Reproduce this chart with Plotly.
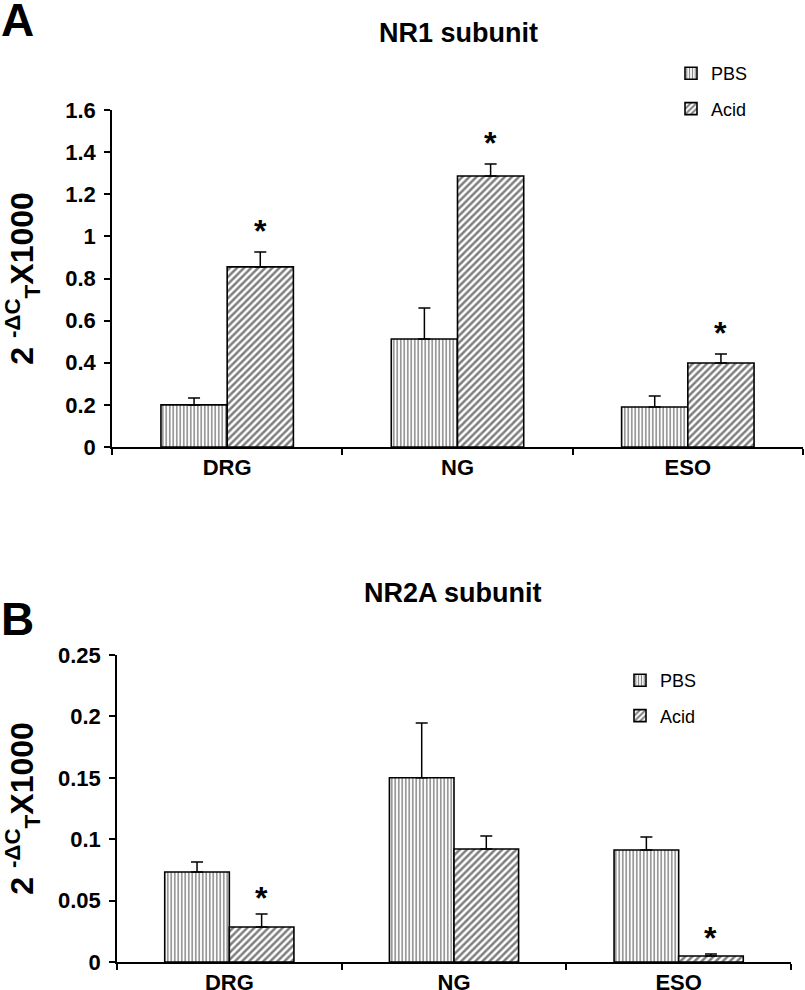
import plotly.graph_objects as go

W, H = 805, 990
categories = ["DRG", "NG", "ESO"]

# Panel A: NR1 subunit
a_pbs = [0.20, 0.513, 0.19]
a_pbs_err = [0.033, 0.147, 0.052]
a_acid = [0.855, 1.287, 0.399]
a_acid_err = [0.071, 0.057, 0.043]
a_sig = [True, True, True]
a_ticks = [0, 0.2, 0.4, 0.6, 0.8, 1, 1.2, 1.4, 1.6]
a_ticklabels = ["0", "0.2", "0.4", "0.6", "0.8", "1", "1.2", "1.4", "1.6"]

# Panel B: NR2A subunit
b_pbs = [0.0733, 0.150, 0.0912]
b_pbs_err = [0.0081, 0.0446, 0.0106]
b_acid = [0.0285, 0.092, 0.0049]
b_acid_err = [0.0105, 0.0106, 0.0016]
b_sig = [True, False, True]
b_ticks = [0, 0.05, 0.1, 0.15, 0.2, 0.25]
b_ticklabels = ["0", "0.05", "0.1", "0.15", "0.2", "0.25"]

FONT = "Liberation Sans, Arial, sans-serif"
BARGAP = 0.425

def py(px):
    return 1 - px / H

def px_(x):
    return x / W

fig = go.Figure()

def add_panel(pbs, pbs_err, acid, acid_err, xa, ya, legend):
    fig.add_trace(go.Bar(
        x=categories, y=pbs, name="PBS", xaxis=xa, yaxis=ya, legend=legend,
        legendgroup=legend + "p",
        marker=dict(color="white", line=dict(color="black", width=1.6),
                    pattern=dict(shape="|", fgcolor="black", bgcolor="white",
                                 size=3.5, solidity=0.4)),
        error_y=dict(type="data", symmetric=False, array=pbs_err,
                     arrayminus=[0] * len(pbs_err), color="black",
                     thickness=1.5, width=6),
    ))
    fig.add_trace(go.Bar(
        x=categories, y=acid, name="Acid", xaxis=xa, yaxis=ya, legend=legend,
        legendgroup=legend + "a",
        marker=dict(color="white", line=dict(color="black", width=1.6),
                    pattern=dict(shape="/", fgcolor="black", bgcolor="white",
                                 size=5, solidity=0.5)),
        error_y=dict(type="data", symmetric=False, array=acid_err,
                     arrayminus=[0] * len(acid_err), color="black",
                     thickness=1.5, width=6),
    ))

add_panel(a_pbs, a_pbs_err, a_acid, a_acid_err, "x", "y", "legend")
add_panel(b_pbs, b_pbs_err, b_acid, b_acid_err, "x2", "y2", "legend2")

axis_common = dict(showline=True, linecolor="black", linewidth=1.5,
                   ticks="outside", tickcolor="black", tickwidth=1.5,
                   showgrid=False, zeroline=False, automargin=False,
                   tickfont=dict(family=FONT, size=22, color="black", weight="bold"))

ytitle = "2 <sup>-ΔC</sup><sub>T</sub>X1000"
ytitle_font = dict(family=FONT, size=32, color="black", weight="bold")

fig.update_layout(
    width=W, height=H,
    margin=dict(l=0, r=0, t=0, b=0, pad=0, autoexpand=False),
    paper_bgcolor="white", plot_bgcolor="white",
    barmode="group", bargap=BARGAP, bargroupgap=0,
    xaxis=dict(domain=[px_(112), px_(803)], anchor="y", range=[-0.5, 2.5],
               tickson="boundaries", ticklen=6, **axis_common),
    yaxis=dict(domain=[py(447), py(110)], anchor="x", range=[0, 1.6],
               tickvals=a_ticks, ticktext=a_ticklabels, ticklen=6,
               ticklabelstandoff=4,
               title=dict(text=ytitle, font=ytitle_font, standoff=22), **axis_common),
    xaxis2=dict(domain=[px_(117), px_(791)], anchor="y2", range=[-0.5, 2.5],
                tickson="boundaries", ticklen=6, **axis_common),
    yaxis2=dict(domain=[py(962), py(655)], anchor="x2", range=[0, 0.25],
                tickvals=b_ticks, ticktext=b_ticklabels, ticklen=6,
                ticklabelstandoff=4,
                title=dict(text=ytitle, font=ytitle_font, standoff=22), **axis_common),
    legend=dict(x=px_(671), y=py(55), xanchor="left", yanchor="top",
                font=dict(family=FONT, size=18, color="black"),
                traceorder="grouped", tracegroupgap=9, bgcolor="rgba(0,0,0,0)"),
    legend2=dict(x=px_(620), y=py(662), xanchor="left", yanchor="top",
                 font=dict(family=FONT, size=18, color="black"),
                 traceorder="grouped", tracegroupgap=9, bgcolor="rgba(0,0,0,0)"),
    font=dict(family=FONT, color="black"),
)

offset = (1 - BARGAP) / 4
ann = []

def stars(acid, acid_err, sig, xr, yr, shift):
    for i, (v, e, s) in enumerate(zip(acid, acid_err, sig)):
        if s:
            ann.append(dict(x=i + offset, y=v + e, xref=xr, yref=yr, text="*",
                            showarrow=False, yanchor="bottom", yshift=shift,
                            font=dict(family=FONT, size=32, color="black", weight="bold")))

stars(a_acid, a_acid_err, a_sig, "x", "y", 1)
stars(b_acid, b_acid_err, b_sig, "x2", "y2", -4)

ann += [
    dict(x=px_(458), y=py(33), xref="paper", yref="paper", text="NR1 subunit",
         xanchor="center", yanchor="middle",
         showarrow=False, font=dict(family=FONT, size=27, weight="bold")),
    dict(x=px_(453), y=py(593), xref="paper", yref="paper", text="NR2A subunit",
         xanchor="center", yanchor="middle",
         showarrow=False, font=dict(family=FONT, size=27, weight="bold")),
    dict(x=px_(17), y=py(20), xref="paper", yref="paper", text="A",
         xanchor="center", yanchor="middle",
         showarrow=False, font=dict(family=FONT, size=46, weight="bold")),
    dict(x=px_(17), y=py(619), xref="paper", yref="paper", text="B",
         xanchor="center", yanchor="middle",
         showarrow=False, font=dict(family=FONT, size=46, weight="bold")),
]
fig.update_layout(annotations=ann)

fig.write_html("out.html", config={"displayModeBar": False},
               post_script="document.body.style.margin='0';")
